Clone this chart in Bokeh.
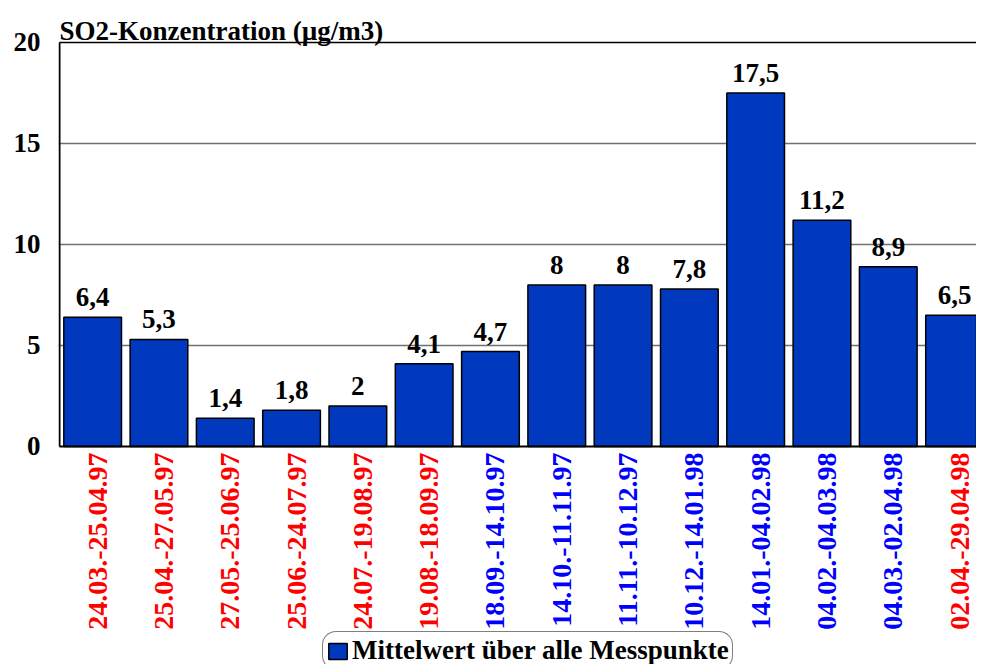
import math
from bokeh.plotting import figure
from bokeh.models import (Range1d, FixedTicker, ColumnDataSource, LabelSet, Label,
                          Legend, LegendItem)
from bokeh.embed import file_html
from bokeh.resources import INLINE

# ---- data ----
periods = ["24.03.-25.04.97", "25.04.-27.05.97", "27.05.-25.06.97", "25.06.-24.07.97",
           "24.07.-19.08.97", "19.08.-18.09.97", "18.09.-14.10.97", "14.10.-11.11.97",
           "11.11.-10.12.97", "10.12.-14.01.98", "14.01.-04.02.98", "04.02.-04.03.98",
           "04.03.-02.04.98", "02.04.-29.04.98"]
so2_mean = [6.4, 5.3, 1.4, 1.8, 2.0, 4.1, 4.7, 8.0, 8.0, 7.8, 17.5, 11.2, 8.9, 6.5]
label_colors = ["#FF0000", "#FF0000", "#FF0000", "#FF0000", "#FF0000", "#FF0000",
                "#0000FF", "#0000FF", "#0000FF", "#0000FF", "#0000FF", "#0000FF",
                "#0000FF", "#FF0000"]
y_ticks = [0, 5, 10, 15, 20]
y_title = "SO2-Konzentration (µg/m3)"
series_name = "Mittelwert über alle Messpunkte"

FONT = "Liberation Serif"
Y_MIN, Y_MAX = 0, 20
X_LEFT, X_RIGHT = -0.5, 13.331


def fmt(v):
    s = ("%.1f" % v).rstrip("0").rstrip(".")
    return s.replace(".", ",")


xs = list(range(len(periods)))
src = ColumnDataSource(dict(x=xs, top=so2_mean, period=periods, color=label_colors,
                            vlabel=[fmt(v) for v in so2_mean], zero=[0] * len(xs)))

# frame spans the whole canvas height; the axis area 0..20 sits inside it
p = figure(width=976, height=664, output_backend="svg", toolbar_location=None,
           x_range=Range1d(-0.5151, X_RIGHT), y_range=Range1d(-10.792, 22.079))
p.min_border_left = 58
p.min_border_right = 0
p.min_border_top = 0
p.min_border_bottom = 0
p.background_fill_color = "white"
p.border_fill_color = "white"
p.outline_line_color = None

p.xaxis.visible = False
p.yaxis.ticker = FixedTicker(ticks=y_ticks)
p.yaxis.major_tick_out = 0
p.yaxis.major_tick_in = 0
p.yaxis.minor_tick_line_color = None
p.yaxis.axis_line_color = None
p.yaxis.major_label_standoff = 18
p.yaxis.major_label_text_font = FONT
p.yaxis.major_label_text_font_style = "bold"
p.yaxis.major_label_text_font_size = "27px"
p.yaxis.major_label_text_color = "black"

p.xgrid.visible = False
p.ygrid.ticker = FixedTicker(ticks=[5, 10, 15])
p.ygrid.grid_line_color = "#707070"
p.ygrid.grid_line_width = 1.5

bars = p.vbar(x="x", top="top", width=0.87, source=src, fill_color="#0039BE",
              line_color="black", line_width=1.5)

# axis frame lines (left, bottom, top)
p.segment(x0=[X_LEFT], y0=[Y_MIN], x1=[X_LEFT], y1=[Y_MAX], line_color="black", line_width=2)
p.segment(x0=[X_LEFT], y0=[Y_MIN], x1=[X_RIGHT], y1=[Y_MIN], line_color="black", line_width=2)
p.segment(x0=[X_LEFT], y0=[Y_MAX], x1=[X_RIGHT], y1=[Y_MAX], line_color="black", line_width=1.5)

# value labels
vl = LabelSet(x="x", y="top", text="vlabel", source=src, text_font=FONT,
              text_font_style="bold", text_font_size="27px", text_color="black",
              text_align="center", text_baseline="alphabetic", y_offset=11)
p.add_layout(vl)

# category labels (rotated, coloured)
cl = LabelSet(x="x", y="zero", text="period", source=src, text_font=FONT,
              text_font_style="bold", text_font_size="28px", text_color="color",
              text_align="right", text_baseline="middle", angle=math.pi / 2,
              x_offset=5, y_offset=-6)
p.add_layout(cl)

# y title
p.add_layout(Label(x=X_LEFT, y=Y_MAX, y_offset=11, text=y_title, text_font=FONT,
                   text_font_style="bold", text_font_size="27px", text_color="black",
                   text_align="left", text_baseline="alphabetic"))

# legend
leg = Legend(items=[LegendItem(label=series_name, renderers=[bars])],
             location=(264, -6), orientation="horizontal")
leg.label_text_font = FONT
leg.label_text_font_style = "bold"
leg.label_text_font_size = "27px"
leg.label_text_color = "black"
leg.label_height = 26
leg.glyph_width = 23
leg.glyph_height = 20
leg.label_standoff = 3
leg.padding = 3
leg.margin = 0
leg.border_line_color = "black"
leg.border_line_width = 1.5
leg.background_fill_color = "white"
leg.background_fill_alpha = 1.0
if "border_radius" in Legend.properties():
    leg.border_radius = 14
p.add_layout(leg)

open("out.html", "w").write(file_html(p, INLINE))
